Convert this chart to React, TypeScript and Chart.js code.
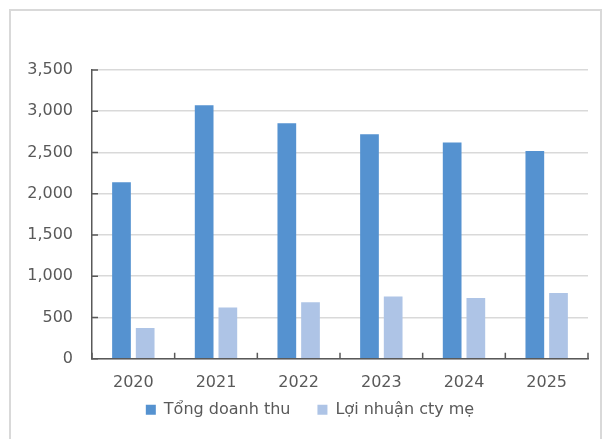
import React, { useEffect, useRef } from "react";
import { Chart, registerables } from "chart.js";

Chart.register(...registerables);

const categories = ["2020", "2021", "2022", "2023", "2024", "2025"];
const revenue = [2140, 3073, 2855, 2720, 2620, 2518];
const profit = [372, 622, 683, 755, 735, 795];
const seriesNames = ["Tổng doanh thu", "Lợi nhuận cty mẹ"];
const yMax = 3500;
const yStep = 500;

const AXIS = "#595959";
const TEXT = "#595959";
const GRID = "#d9d9d9";
const FONT = "'DejaVu Sans', sans-serif";

const innerTicks = {
  id: "innerTicks",
  afterDraw(chart: any) {
    const { ctx, chartArea } = chart;
    const x = chart.scales.x;
    const y = chart.scales.y;
    ctx.save();
    ctx.strokeStyle = AXIS;
    ctx.lineWidth = 1.5;
    ctx.beginPath();
    y.ticks.forEach((_t: any, i: number) => {
      const py = y.getPixelForTick(i);
      ctx.moveTo(chartArea.left, py);
      ctx.lineTo(chartArea.left + 6, py);
    });
    for (let i = 0; i <= categories.length; i++) {
      const px = x.getPixelForValue(i - 0.5);
      ctx.moveTo(px, chartArea.bottom);
      ctx.lineTo(px, chartArea.bottom - 6);
    }
    ctx.stroke();
    ctx.restore();
  },
};

// move the legend up/right a little so it sits where the reference has it
const legendShift = {
  id: "legendShift",
  afterLayout(chart: any) {
    const lg = chart.legend;
    if (!lg) return;
    lg.top -= 20;
    lg.bottom -= 20;
    lg.left += 3;
    lg.right += 3;
  },
};

export default function App() {
  const ref = useRef<HTMLCanvasElement>(null);
  useEffect(() => {
    if (!ref.current) return;
    const chart = new Chart(ref.current, {
      type: "bar",
      data: {
        labels: categories,
        datasets: [
          {
            label: seriesNames[0],
            data: revenue,
            backgroundColor: "#5592d0",
            categoryPercentage: 0.573,
            barPercentage: 0.79,
          },
          {
            label: seriesNames[1],
            data: profit,
            backgroundColor: "#aec4e6",
            categoryPercentage: 0.573,
            barPercentage: 0.79,
          },
        ],
      },
      options: {
        animation: false,
        responsive: false,
        maintainAspectRatio: false,
        layout: { padding: { left: 26, right: 16, top: 70, bottom: -8.7 } },
        scales: {
          x: {
            grid: { display: false, drawTicks: false },
            border: { display: true, color: AXIS, width: 1.5 },
            ticks: { color: TEXT, font: { family: FONT, size: 16 }, padding: 15 },
            afterFit: (s: any) => {
              s.height = 36;
            },
          },
          y: {
            min: 0,
            max: yMax,
            grid: { color: GRID, lineWidth: 1.5, drawTicks: false },
            border: { display: true, color: AXIS, width: 1.5 },
            ticks: {
              stepSize: yStep,
              color: TEXT,
              padding: 19,
              font: { family: FONT, size: 16 },
              callback: (v: any) => Number(v).toLocaleString("en-US"),
            },
            afterFit: (s: any) => {
              s.width = 66;
            },
          },
        },
        plugins: {
          legend: {
            position: "bottom",
            labels: {
              boxWidth: 10,
              boxHeight: 10,
              padding: 27,
              color: TEXT,
              font: { family: FONT, size: 16 },
            },
          },
          tooltip: { enabled: false },
        },
      },
      plugins: [innerTicks, legendShift],
    });
    return () => chart.destroy();
  }, []);

  return (
    <div style={{ position: "absolute", left: 0, top: 0, width: 604, height: 439, overflow: "hidden", background: "#fff" }}>
      <div
        style={{
          position: "absolute",
          left: 9,
          top: 9,
          width: 593,
          height: 460,
          border: "2px solid #d9d9d9",
          boxSizing: "border-box",
        }}
      />
      <canvas ref={ref} width={604} height={439} style={{ position: "absolute", left: 0, top: 0, width: 604, height: 439 }} />
    </div>
  );
}
